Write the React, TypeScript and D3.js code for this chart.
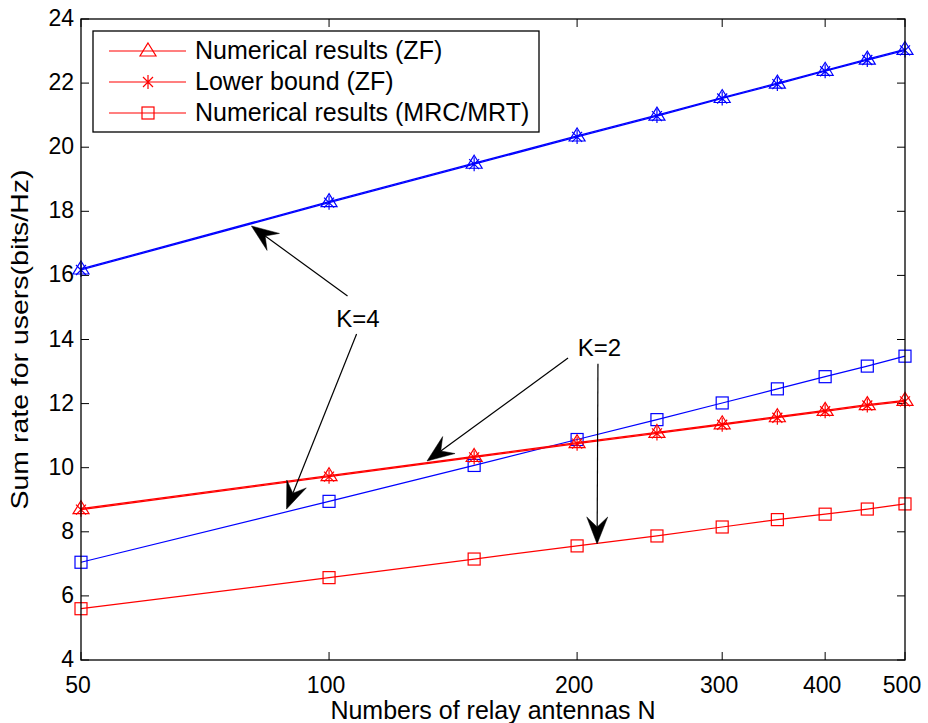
import React from 'react';
import * as d3 from 'd3';

// relay antenna counts
const antennas = [50, 100, 150, 200, 250, 300, 350, 400, 450, 500];

// K = 4 (blue)
const zfK4 = [16.2, 18.3, 19.5, 20.35, 21.0, 21.55, 22.0, 22.4, 22.75, 23.05];
const lbK4 = [16.17, 18.27, 19.47, 20.32, 20.97, 21.52, 21.97, 22.37, 22.72, 23.02];
const mrcK4 = [7.05, 8.95, 10.07, 10.88, 11.5, 12.02, 12.46, 12.84, 13.17, 13.48];

// K = 2 (red)
const zfK2 = [8.72, 9.75, 10.35, 10.78, 11.1, 11.37, 11.59, 11.79, 11.97, 12.1];
const lbK2 = [8.69, 9.72, 10.32, 10.75, 11.07, 11.34, 11.56, 11.76, 11.94, 12.07];
const mrcK2 = [5.6, 6.57, 7.15, 7.56, 7.87, 8.15, 8.38, 8.55, 8.71, 8.87];

const xTicks = [50, 100, 200, 300, 400, 500];
const yTicks = [4, 6, 8, 10, 12, 14, 16, 18, 20, 22, 24];

const legendItems = [
  { label: 'Numerical results (ZF)', marker: 'triangle' },
  { label: 'Lower bound (ZF)', marker: 'star' },
  { label: 'Numerical results (MRC/MRT)', marker: 'square' },
];

// annotations in data units: [N, rate]
const annoLabels = [
  { text: 'K=4', at: [108.4, 14.64] },
  { text: 'K=2', at: [212.9, 13.73] },
];
const annoArrows = [
  { from: [105.3, 15.36], to: [80.5, 17.54] },
  { from: [108, 14.17], to: [88.8, 8.71] },
  { from: [195, 13.42], to: [131.5, 10.21] },
  { from: [212, 13.24], to: [211.5, 7.62] },
];

const W = 928;
const H = 723;
const left = 81, right = 905, top = 19, bottom = 660;
const font = '"Liberation Sans", Arial, Helvetica, sans-serif';

const x = d3.scaleLog().domain([50, 500]).range([left, right]);
const y = d3.scaleLinear().domain([4, 24]).range([bottom, top]);

const Marker = ({ type, cx, cy, color }: { type: string; cx: number; cy: number; color: string }) => {
  if (type === 'triangle') {
    const p = `${cx},${cy - 8} ${cx + 8},${cy + 5} ${cx - 8},${cy + 5}`;
    return <polygon points={p} fill="none" stroke={color} strokeWidth={1.2} />;
  }
  if (type === 'square') {
    return <rect x={cx - 6} y={cy - 6} width={12} height={12} fill="none" stroke={color} strokeWidth={1.2} />;
  }
  const r = 7;
  const d = 5;
  return (
    <path
      d={`M${cx},${cy - r}L${cx},${cy + r}M${cx - d},${cy - d}L${cx + d},${cy + d}M${cx - d},${cy + d}L${cx + d},${cy - d}`}
      stroke={color}
      strokeWidth={1.2}
      fill="none"
    />
  );
};

const Series = ({ values, color, marker, width }: { values: number[]; color: string; marker: string; width: number }) => {
  const line = d3
    .line<number>()
    .x((_, i) => x(antennas[i]))
    .y((v) => y(v));
  return (
    <g>
      <path d={line(values) || ''} fill="none" stroke={color} strokeWidth={width} />
      {values.map((v, i) => (
        <Marker key={i} type={marker} cx={x(antennas[i])} cy={y(v)} color={color} />
      ))}
    </g>
  );
};

const Arrow = ({ from, to }: { from: number[]; to: number[] }) => {
  const x1 = x(from[0]), y1 = y(from[1]);
  const x2 = x(to[0]), y2 = y(to[1]);
  const len = Math.hypot(x2 - x1, y2 - y1);
  const ux = (x2 - x1) / len, uy = (y2 - y1) / len;
  const px = -uy, py = ux;
  const L = 27, Wd = 10.5, notch = 17;
  const bx = x2 - ux * L, by = y2 - uy * L;
  const nx = x2 - ux * notch, ny = y2 - uy * notch;
  const head = `M${x2},${y2}L${bx + px * Wd},${by + py * Wd}L${nx},${ny}L${bx - px * Wd},${by - py * Wd}Z`;
  return (
    <g>
      <line x1={x1} y1={y1} x2={nx} y2={ny} stroke="#000" strokeWidth={1.2} />
      <path d={head} fill="#000" stroke="#000" strokeWidth={0.5} />
    </g>
  );
};

export default function App() {
  return (
    <svg width={W} height={H} style={{ position: 'absolute', left: 0, top: 0, background: '#fff' }} fontFamily={font}>
      <rect width={W} height={H} fill="#fff" />

      {/* ticks, inward on all sides */}
      {xTicks.map((t) => (
        <g key={'x' + t}>
          <line x1={x(t)} x2={x(t)} y1={bottom} y2={bottom - 8} stroke="#000" />
          <line x1={x(t)} x2={x(t)} y1={top} y2={top + 8} stroke="#000" />
          <text x={x(t) - 3} y={693} fontSize={23} textAnchor="middle" fill="#000">
            {t}
          </text>
        </g>
      ))}
      {yTicks.map((t) => (
        <g key={'y' + t}>
          <line x1={left} x2={left + 8} y1={y(t)} y2={y(t)} stroke="#000" />
          <line x1={right} x2={right - 8} y1={y(t)} y2={y(t)} stroke="#000" />
          <text x={74} y={y(t) + 7} fontSize={23} textAnchor="end" fill="#000">
            {t}
          </text>
        </g>
      ))}

      {/* data */}
      <Series values={zfK4} color="#0000ff" marker="triangle" width={1.3} />
      <Series values={lbK4} color="#0000ff" marker="star" width={1.3} />
      <Series values={mrcK4} color="#0000ff" marker="square" width={1.2} />
      <Series values={zfK2} color="#ff0000" marker="triangle" width={1.3} />
      <Series values={lbK2} color="#ff0000" marker="star" width={1.3} />
      <Series values={mrcK2} color="#ff0000" marker="square" width={1.2} />

      {/* frame */}
      <rect x={left} y={top} width={right - left} height={bottom - top} fill="none" stroke="#000" strokeWidth={1.3} />

      {/* annotations */}
      {annoArrows.map((a, i) => (
        <Arrow key={i} from={a.from} to={a.to} />
      ))}
      {annoLabels.map((a) => (
        <text key={a.text} x={x(a.at[0])} y={y(a.at[1]) + 8} fontSize={24} textAnchor="middle" fill="#000">
          {a.text}
        </text>
      ))}

      {/* legend */}
      <g>
        <rect x={93} y={31} width={446} height={101} fill="#fff" stroke="#000" strokeWidth={1.3} />
        {legendItems.map((d, i) => {
          const ly = 51 + i * 31;
          return (
            <g key={d.label}>
              <line x1={109} x2={186} y1={ly} y2={ly} stroke="#ff0000" strokeWidth={1.2} />
              <Marker type={d.marker} cx={148} cy={ly} color="#ff0000" />
              <text x={195} y={ly + 8} fontSize={25} fill="#000">
                {d.label}
              </text>
            </g>
          );
        })}
      </g>

      {/* axis titles */}
      <text x={(left + right) / 2} y={719} fontSize={25} textAnchor="middle" fill="#000">
        Numbers of relay antennas N
      </text>
      <text
        transform={`translate(28,${(top + bottom) / 2}) rotate(-90)`}
        fontSize={24}
        textAnchor="middle"
        textLength={340}
        lengthAdjust="spacingAndGlyphs"
        fill="#000"
      >
        Sum rate for users(bits/Hz)
      </text>
    </svg>
  );
}
